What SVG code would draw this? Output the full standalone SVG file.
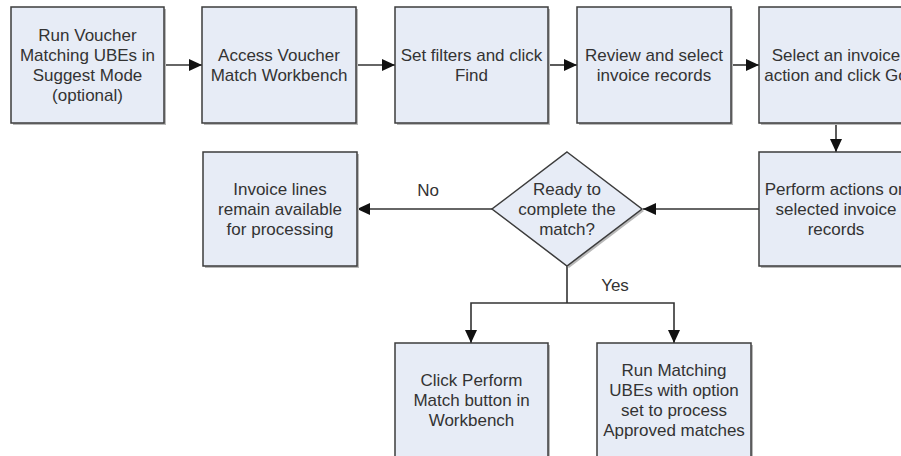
<svg xmlns="http://www.w3.org/2000/svg" width="901" height="456" viewBox="0 0 901 456">
<style>
.box{fill:#E7ECF6;stroke:#3c3c3c;stroke-width:1.5}
.sh{fill:#b8b8b8}
.t{font-family:"Liberation Sans",Arial,sans-serif;font-size:17px;fill:#333;text-anchor:middle}
.c{fill:none;stroke:#333;stroke-width:1.6}
</style>
<defs>
<marker id="ah" markerUnits="userSpaceOnUse" markerWidth="14" markerHeight="12" refX="13" refY="6" orient="auto">
<path d="M0,0 L13,6 L0,12 Z" fill="#111"/>
</marker>
</defs>
<rect width="901" height="456" fill="#fff"/>
<g id="connectors">
<line class="c" x1="164" y1="65" x2="202" y2="65" marker-end="url(#ah)"/>
<line class="c" x1="356" y1="65" x2="395" y2="65" marker-end="url(#ah)"/>
<line class="c" x1="548" y1="65" x2="577" y2="65" marker-end="url(#ah)"/>
<line class="c" x1="731" y1="65" x2="759" y2="65" marker-end="url(#ah)"/>
<line class="c" x1="836" y1="123" x2="836" y2="152" marker-end="url(#ah)"/>
<line class="c" x1="759" y1="209" x2="643" y2="209" marker-end="url(#ah)"/>
<line class="c" x1="492" y1="209" x2="357" y2="209" marker-end="url(#ah)"/>
<text class="t" x="428" y="196">No</text>
<polyline class="c" points="567,266 567,303"/>
<polyline class="c" points="567,303 471,303 471,343" marker-end="url(#ah)"/>
<polyline class="c" points="567,303 674,303 674,343" marker-end="url(#ah)"/>
<text class="t" x="615" y="291">Yes</text>
</g>
<g id="n1">
<rect class="sh" x="13" y="9" width="153" height="116"/>
<rect class="box" x="11" y="7" width="153" height="116"/>
<text class="t" x="87.5" y="41">Run Voucher</text>
<text class="t" x="87.5" y="61">Matching UBEs in</text>
<text class="t" x="87.5" y="81">Suggest Mode</text>
<text class="t" x="87.5" y="101">(optional)</text>
</g>
<g id="n2">
<rect class="sh" x="204" y="9" width="154" height="116"/>
<rect class="box" x="202" y="7" width="154" height="116"/>
<text class="t" x="279" y="61">Access Voucher</text>
<text class="t" x="279" y="81">Match Workbench</text>
</g>
<g id="n3">
<rect class="sh" x="397" y="9" width="153" height="116"/>
<rect class="box" x="395" y="7" width="153" height="116"/>
<text class="t" x="471.5" y="61">Set filters and click</text>
<text class="t" x="471.5" y="81">Find</text>
</g>
<g id="n4">
<rect class="sh" x="579" y="9" width="154" height="116"/>
<rect class="box" x="577" y="7" width="154" height="116"/>
<text class="t" x="654" y="61">Review and select</text>
<text class="t" x="654" y="81">invoice records</text>
</g>
<g id="n5">
<rect class="sh" x="761" y="9" width="154" height="116"/>
<rect class="box" x="759" y="7" width="154" height="116"/>
<text class="t" x="836" y="61">Select an invoice</text>
<text class="t" x="836" y="81">action and click Go</text>
</g>
<g id="n6">
<rect class="sh" x="761" y="154" width="154" height="114"/>
<rect class="box" x="759" y="152" width="154" height="114"/>
<text class="t" x="836" y="195">Perform actions on</text>
<text class="t" x="836" y="215">selected invoice</text>
<text class="t" x="836" y="235">records</text>
</g>
<g id="decision">
<polygon class="sh" points="569,154 644,211 569,268 494,211"/>
<polygon class="box" points="567,152 642,209 567,266 492,209"/>
<text class="t" x="567" y="195">Ready to</text>
<text class="t" x="567" y="215">complete the</text>
<text class="t" x="567" y="235">match?</text>
</g>
<g id="n7">
<rect class="sh" x="205" y="154" width="154" height="114"/>
<rect class="box" x="203" y="152" width="154" height="114"/>
<text class="t" x="280" y="195">Invoice lines</text>
<text class="t" x="280" y="215">remain available</text>
<text class="t" x="280" y="235">for processing</text>
</g>
<g id="n8">
<rect class="sh" x="397" y="345" width="153" height="116"/>
<rect class="box" x="395" y="343" width="153" height="116"/>
<text class="t" x="471.5" y="386">Click Perform</text>
<text class="t" x="471.5" y="406">Match button in</text>
<text class="t" x="471.5" y="426">Workbench</text>
</g>
<g id="n9">
<rect class="sh" x="599" y="345" width="154" height="116"/>
<rect class="box" x="597" y="343" width="154" height="116"/>
<text class="t" x="674" y="376">Run Matching</text>
<text class="t" x="674" y="396">UBEs with option</text>
<text class="t" x="674" y="416">set to process</text>
<text class="t" x="674" y="436">Approved matches</text>
</g>
</svg>
